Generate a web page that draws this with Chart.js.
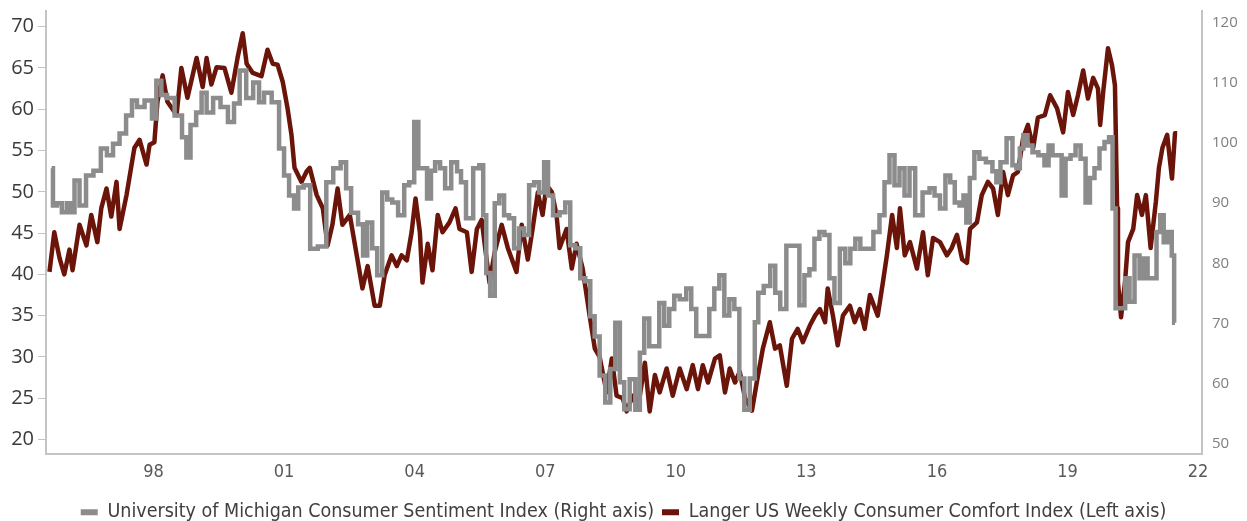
<!DOCTYPE html>
<html>
<head>
<meta charset="utf-8">
<script src="https://cdn.jsdelivr.net/npm/chart.js@4/dist/chart.umd.min.js"></script>
<style>
  html, body { margin: 0; padding: 0; background: #fff; }
  #wrap { width: 1247px; height: 521px; position: relative; }
</style>
</head>
<body>
<div id="wrap"><canvas id="c"></canvas></div>
<script>
/* Consumer sentiment vs consumer comfort */

// Langer US Weekly Consumer Comfort Index (left axis)
const LANGER_YEARS = [
  1995.61,1995.72,1995.84,1995.95,1996.07,1996.14,1996.30,1996.46,1996.57,1996.71,1996.80,1996.92,
  1997.03,1997.15,1997.22,1997.38,1997.56,1997.68,1997.84,1997.91,1998.02,1998.09,1998.21,1998.32,
  1998.53,1998.64,1998.78,1998.99,1999.13,1999.22,1999.33,1999.45,1999.63,1999.79,1999.93,2000.05,
  2000.14,2000.28,2000.48,2000.62,2000.74,2000.85,2000.97,2001.08,2001.17,2001.24,2001.40,2001.52,
  2001.59,2001.75,2001.89,2002.00,2002.11,2002.23,2002.34,2002.51,2002.67,2002.80,2002.92,2003.08,
  2003.20,2003.31,2003.47,2003.59,2003.70,2003.82,2003.93,2004.02,2004.12,2004.18,2004.30,2004.41,
  2004.53,2004.64,2004.80,2004.94,2005.03,2005.20,2005.31,2005.43,2005.54,2005.72,2005.84,2006.00,
  2006.14,2006.34,2006.46,2006.60,2006.71,2006.83,2006.94,2007.03,2007.15,2007.26,2007.33,2007.49,
  2007.61,2007.72,2007.86,2008.02,2008.14,2008.25,2008.41,2008.53,2008.64,2008.78,2008.87,2009.01,
  2009.13,2009.29,2009.40,2009.52,2009.63,2009.79,2009.93,2010.09,2010.25,2010.39,2010.51,2010.62,
  2010.74,2010.90,2011.01,2011.13,2011.24,2011.36,2011.47,2011.59,2011.75,2011.86,2012.00,2012.16,
  2012.28,2012.39,2012.55,2012.67,2012.80,2012.92,2013.08,2013.20,2013.31,2013.43,2013.49,2013.61,
  2013.72,2013.84,2014.00,2014.11,2014.23,2014.34,2014.46,2014.64,2014.76,2014.85,2014.97,2015.08,
  2015.15,2015.26,2015.38,2015.54,2015.68,2015.79,2015.91,2016.07,2016.23,2016.34,2016.46,2016.58,
  2016.69,2016.76,2016.92,2017.03,2017.17,2017.29,2017.40,2017.52,2017.63,2017.75,2017.86,2017.98,
  2018.09,2018.21,2018.32,2018.48,2018.60,2018.76,2018.90,2019.01,2019.13,2019.24,2019.36,2019.47,
  2019.59,2019.70,2019.75,2019.82,2019.93,2020.02,2020.09,2020.14,2020.16,2020.23,2020.32,2020.39,
  2020.51,2020.60,2020.71,2020.80,2020.91,2021.03,2021.10,2021.18,2021.29,2021.40,2021.47,2021.52
];
const LANGER_VALUES = [
  40.3,45.1,42.0,40.0,43.0,40.5,46.0,43.5,47.2,43.9,48.0,50.4,
  47.0,51.2,45.5,49.6,55.3,56.3,53.3,55.7,56.0,60.9,64.1,60.9,
  59.3,65.0,61.4,66.2,62.7,66.2,63.0,65.1,65.0,62.0,66.2,69.2,
  65.5,64.4,64.0,67.2,65.5,65.4,63.3,60.1,56.9,52.9,51.2,52.5,
  52.9,49.6,48.0,43.5,46.0,50.4,46.0,47.2,42.3,38.3,41.0,36.2,
  36.2,39.9,42.3,41.0,42.3,41.7,45.1,49.2,45.1,39.0,43.7,40.5,
  47.2,45.1,46.3,48.0,45.5,45.1,40.3,45.5,46.6,39.0,42.7,46.0,
  43.2,40.3,46.0,41.8,45.5,49.9,47.2,50.8,50.0,47.2,43.2,45.5,
  40.7,43.7,40.7,35.0,31.0,30.0,25.7,29.8,25.3,25.0,23.4,25.3,
  23.8,29.3,23.4,27.8,25.7,28.6,25.3,28.6,26.1,29.0,26.1,29.0,
  26.9,29.8,30.2,25.7,28.6,26.9,28.2,25.0,23.5,26.9,31.0,34.2,
  31.0,31.4,26.5,32.2,33.4,31.8,33.8,35.0,35.8,34.2,38.3,35.0,
  31.4,35.0,36.2,34.2,35.8,33.4,37.5,35.0,39.1,42.3,47.2,43.2,
  48.0,42.3,43.9,40.7,45.1,39.9,44.4,43.9,42.3,43.2,44.8,41.8,
  41.4,45.5,46.3,49.6,51.2,50.4,47.2,52.4,49.6,52.0,52.4,56.5,
  58.1,55.3,59.0,59.3,61.7,60.1,57.2,62.1,59.3,61.7,64.7,61.3,
  63.8,62.5,58.1,62.1,67.4,65.4,62.9,48.0,39.0,34.8,39.0,43.9,
  45.5,49.6,47.2,49.6,43.2,48.8,52.9,55.3,56.9,51.6,57.1,57.1
];

// University of Michigan Consumer Sentiment Index (right axis)
const MICH_YEARS = [
  1995.66,1995.72,1995.84,1995.95,1996.07,1996.14,1996.23,1996.37,1996.53,1996.71,1996.87,1996.99,
  1997.15,1997.29,1997.45,1997.56,1997.68,1997.91,1998.02,1998.11,1998.25,1998.37,1998.60,1998.71,
  1998.80,1998.90,1999.06,1999.15,1999.29,1999.45,1999.63,1999.79,1999.91,2000.05,2000.21,2000.37,
  2000.48,2000.60,2000.83,2000.94,2001.06,2001.17,2001.29,2001.36,2001.54,2001.66,2001.89,2002.05,
  2002.21,2002.39,2002.46,2002.62,2002.78,2002.85,2002.97,2003.08,2003.20,2003.31,2003.43,2003.54,
  2003.70,2003.82,2003.93,2004.05,2004.12,2004.23,2004.34,2004.41,2004.53,2004.64,2004.76,2004.92,
  2005.03,2005.10,2005.26,2005.43,2005.54,2005.61,2005.68,2005.79,2005.89,2006.00,2006.11,2006.23,
  2006.34,2006.46,2006.57,2006.69,2006.80,2006.92,2007.03,2007.10,2007.26,2007.40,2007.52,2007.63,
  2007.75,2007.86,2007.98,2008.09,2008.18,2008.32,2008.44,2008.55,2008.67,2008.76,2008.87,2009.01,
  2009.13,2009.22,2009.33,2009.45,2009.56,2009.68,2009.79,2009.91,2010.02,2010.16,2010.32,2010.39,
  2010.55,2010.71,2010.83,2010.94,2011.06,2011.17,2011.29,2011.40,2011.52,2011.63,2011.77,2011.86,
  2011.93,2012.11,2012.23,2012.34,2012.46,2012.62,2012.78,2012.90,2013.01,2013.13,2013.24,2013.36,
  2013.47,2013.59,2013.70,2013.84,2013.95,2014.07,2014.18,2014.30,2014.46,2014.62,2014.74,2014.85,
  2014.97,2015.08,2015.20,2015.31,2015.43,2015.57,2015.77,2015.89,2016.00,2016.14,2016.25,2016.36,
  2016.46,2016.58,2016.64,2016.71,2016.80,2016.92,2017.03,2017.22,2017.33,2017.40,2017.52,2017.68,
  2017.79,2017.86,2017.95,2018.02,2018.14,2018.25,2018.41,2018.53,2018.60,2018.71,2018.83,2018.90,
  2019.01,2019.13,2019.24,2019.36,2019.47,2019.56,2019.68,2019.79,2019.91,2020.00,2020.07,2020.14,
  2020.28,2020.37,2020.48,2020.60,2020.71,2020.78,2020.90,2021.01,2021.08,2021.18,2021.24,2021.36,
  2021.43,2021.47
];
const MICH_VALUES = [
  95.8,89.6,90.0,88.5,90.0,88.5,93.8,89.6,94.6,95.4,99.1,98.0,
  99.9,101.6,104.6,107.1,106.0,107.1,104.1,110.4,108.0,107.5,104.6,101.0,
  97.6,103.0,105.1,108.4,105.1,107.5,106.0,103.5,106.6,112.1,107.5,110.1,
  106.8,108.4,106.8,99.1,94.6,91.3,89.1,92.6,93.0,82.4,82.8,93.5,
  95.8,96.8,92.5,88.4,86.5,81.3,86.8,82.5,78.0,91.8,90.6,90.1,
  88.0,93.0,93.5,103.5,95.8,95.8,90.8,95.4,96.8,95.8,92.5,96.8,
  95.3,93.5,87.5,95.8,96.3,88.0,78.4,74.6,90.0,91.3,88.0,87.5,
  82.5,85.8,84.7,93.0,93.5,91.8,96.8,91.3,88.0,88.5,90.1,83.0,
  82.5,77.5,77.0,71.2,67.8,61.3,56.8,62.4,70.1,60.2,55.7,60.7,
  55.6,65.1,70.8,66.2,66.2,73.4,69.6,72.4,74.6,74.0,75.8,72.4,
  67.9,67.9,72.4,75.8,78.0,71.3,74.0,72.4,60.8,55.6,60.8,70.2,
  75.1,76.2,79.6,75.1,72.4,82.9,82.9,73.0,78.0,79.0,84.1,85.2,
  84.7,77.5,73.4,82.4,80.0,82.4,84.1,82.4,82.4,85.2,88.0,93.5,
  98.0,93.0,95.8,91.3,95.8,88.0,91.8,92.5,91.3,89.1,94.6,93.5,
  90.1,89.6,91.3,86.8,94.2,98.5,97.4,96.8,95.3,93.5,96.8,100.8,
  96.3,95.8,99.1,101.3,99.6,98.5,98.0,96.3,99.6,98.0,98.0,91.3,
  97.4,98.0,99.6,97.4,90.1,94.2,95.8,99.1,100.2,101.0,89.1,72.5,
  72.5,77.5,73.6,81.3,77.5,80.8,77.5,77.5,85.2,88.0,83.5,85.2,
  81.3,70.1
];

// axis ticks
const X_TICKS = [1998, 2001, 2004, 2007, 2010, 2013, 2016, 2019, 2022];
const LEFT_TICKS = [20, 25, 30, 35, 40, 45, 50, 55, 60, 65, 70];
const RIGHT_TICKS = [50, 60, 70, 80, 90, 100, 110, 120];

const GRAY = "#8c8c8c";
const MAROON = "#6b1409";
const AXIS = "#c4c4c4";
const NARROW = "'Liberation Sans Narrow', 'DejaVu Sans Condensed', sans-serif";

const pts = (xs, ys) => xs.map((x, i) => ({ x: x, y: ys[i] }));
const fixTicks = list => scale => { scale.ticks = list.map(v => ({ value: v })); };
// no edge padding for labels, so the plot box sits where the reference has it
const noPad = (w, h) => s => {
  if (w != null) s.width = w;
  if (h != null) s.height = h;
  s.paddingTop = 0; s.paddingBottom = 0; s.paddingLeft = 0; s.paddingRight = 0;
};

new Chart(document.getElementById("c"), {
  type: "line",
  data: {
    datasets: [
      {
        label: "University of Michigan Consumer Sentiment Index (Right axis)",
        data: pts(MICH_YEARS, MICH_VALUES),
        yAxisID: "yR",
        borderColor: GRAY,
        backgroundColor: GRAY,
        borderWidth: 4.5,
        stepped: "middle",
        pointRadius: 0
      },
      {
        label: "Langer US Weekly Consumer Comfort Index (Left axis)",
        data: pts(LANGER_YEARS, LANGER_VALUES),
        yAxisID: "yL",
        borderColor: MAROON,
        backgroundColor: MAROON,
        borderWidth: 4.5,
        borderJoinStyle: "round",
        tension: 0,
        pointRadius: 0
      }
    ]
  },
  options: {
    responsive: true,
    maintainAspectRatio: false,
    animation: false,
    layout: { padding: { top: 11, left: 0, right: 0, bottom: -11 } },
    plugins: {
      tooltip: { enabled: false },
      legend: {
        position: "bottom",
        labels: {
          color: "#404040",
          font: { family: NARROW, size: 19.5 },
          boxWidth: 17,
          boxHeight: 6,
          padding: 8,
          generateLabels: chart =>
            Chart.defaults.plugins.legend.labels.generateLabels(chart).map(l => ({ ...l, lineWidth: 0 }))
        }
      }
    },
    scales: {
      x: {
        type: "linear",
        min: 1995.53,
        max: 2022.09,
        afterBuildTicks: fixTicks(X_TICKS),
        afterFit: noPad(null, 41),
        grid: { display: false, drawTicks: false },
        border: { display: true, color: AXIS, width: 2 },
        ticks: {
          padding: 8,
          color: "#595959",
          font: { family: NARROW, size: 18 },
          callback: v => String(v % 100).padStart(2, "0")
        }
      },
      yL: {
        position: "left",
        min: 18.3,
        max: 71.9,
        afterBuildTicks: fixTicks(LEFT_TICKS),
        afterFit: noPad(46, null),
        grid: { drawOnChartArea: false, drawTicks: true, tickLength: 8, color: AXIS },
        border: { display: true, color: AXIS, width: 2 },
        ticks: {
          padding: 4,
          color: "#3a3a3a",
          font: { family: "'Open Sans', sans-serif", size: 20 }
        }
      },
      yR: {
        position: "right",
        min: 48.33,
        max: 122,
        afterBuildTicks: fixTicks(RIGHT_TICKS),
        afterFit: noPad(45, null),
        grid: { display: false, drawTicks: false },
        border: { display: true, color: AXIS, width: 2 },
        ticks: {
          padding: 10,
          color: "#7f7f7f",
          font: { family: "'Open Sans', sans-serif", size: 15 }
        }
      }
    }
  }
});
</script>
</body>
</html>
